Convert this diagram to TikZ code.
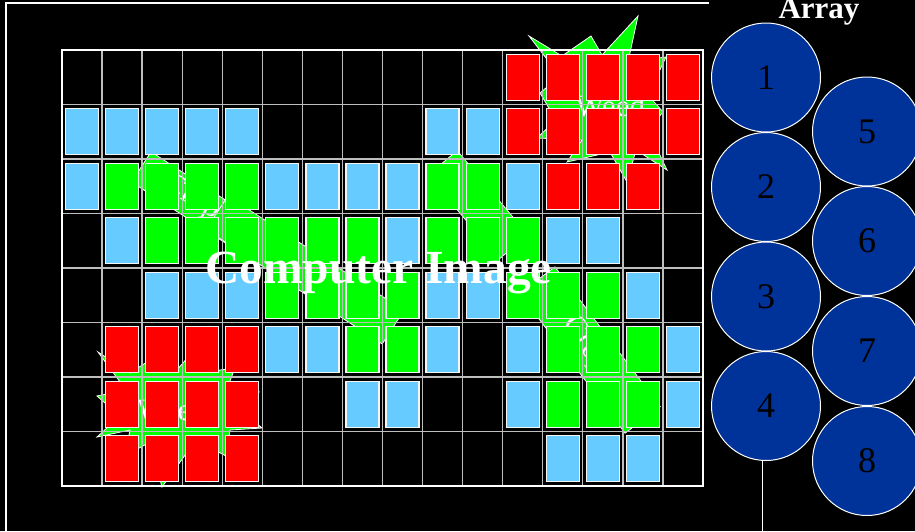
\documentclass[tikz,border=0pt]{standalone}
\usepackage{fontspec}
\setmainfont{Liberation Serif}
\definecolor{cellblue}{RGB}{102,204,255}
\definecolor{cellgreen}{RGB}{0,255,0}
\definecolor{cellred}{RGB}{255,0,0}
\definecolor{arrayblue}{RGB}{0,51,153}
\definecolor{gridgray}{RGB}{190,190,190}
\tikzset{
  cellbox/.style={rectangle, minimum width=33pt, minimum height=46pt, inner sep=0pt, draw=white!92!gray, line width=1.2pt},
  bluecell/.style={cellbox, fill=cellblue},
  greencell/.style={cellbox, fill=cellgreen},
  redcell/.style={cellbox, fill=cellred},
  leaf/.style={rectangle, fill=cellgreen, draw=white, line width=0.8pt, inner sep=0pt},
  weedstar/.style={fill=cellgreen, draw=white, line width=0.8pt, line join=miter},
  plantlabel/.style={text=white, inner sep=0pt, font=\fontsize{31}{31}\selectfont},
  lens/.style={circle, minimum size=109pt, fill=arrayblue, draw=white, line width=1pt, inner sep=0pt, font=\fontsize{36}{36}\selectfont, text=black},
  titlelabel/.style={text=white, inner sep=0pt, font=\bfseries\fontsize{47.5}{47.5}\selectfont},
  framerule/.style={draw=white, line width=1.2pt},
  gridinner/.style={draw=gridgray, line width=1.3pt},
  gridouter/.style={draw=white, line width=2.4pt},
}
\begin{document}
\begin{tikzpicture}[x=1pt,y=-1pt]
\useasboundingbox (0,0) rectangle (915,531);
\fill[black] (0,0) rectangle (915,531);

% outer frame
\coordinate (fa) at (6,531);
\coordinate (fb) at (6,3);
\coordinate (fc) at (709,3);
\draw[framerule] (fa) -- (fb) -- (fc);

% crop leaves (behind the green cells)
\node[leaf, minimum width=140pt, minimum height=36pt, rotate=-33] (leafA) at (200,205) {};
\node[leaf, minimum width=210pt, minimum height=40pt, rotate=-33] (leafB) at (305,270) {};
\node[leaf, minimum width=110pt, minimum height=38pt, rotate=-50] (leafC) at (478,205) {};
\node[leaf, minimum width=175pt, minimum height=44pt, rotate=-53] (leafD) at (590,350) {};

% weeds
\draw[weedstar] (529,36) -- (562,56) -- (591,36) -- (602,55) -- (638,16) -- (628,62) -- (666,57)
  -- (648,95) -- (663,112) -- (648,130) -- (667,170) -- (636,150) -- (627,182) -- (610,152)
  -- (567,162) -- (582,140) -- (537,138) -- (556,120) -- (540,93) -- (560,76) -- cycle;
\draw[weedstar] (98,352) -- (130,373) -- (150,360) -- (175,372) -- (190,355) -- (205,372)
  -- (235,368) -- (228,386) -- (259,392) -- (236,406) -- (262,428) -- (230,430) -- (226,456)
  -- (196,440) -- (162,487) -- (150,442) -- (125,456) -- (130,430) -- (97,437) -- (120,416)
  -- (97,396) -- (126,390) -- cycle;

% plant labels
\node[plantlabel, anchor=base west] (weedA) at (575,116) {Weed};
\node[plantlabel, anchor=base west] (weedB) at (137,420) {Weed};
\node[plantlabel, rotate=-30] (cropA) at (192,198) {Crop};
\node[plantlabel, rotate=-55] (cropB) at (586,345) {Crop};

% grid
\foreach \c in {1,...,15} {
  \draw[gridinner] ({62+40.0625*\c},50) -- ({62+40.0625*\c},486);
}
\foreach \r in {1,...,7} {
  \draw[gridinner] (62,{50+54.5*\r}) -- (703,{50+54.5*\r});
}
\draw[gridouter] (62,50) rectangle (703,486);

% cells
\foreach \c/\r in {0/1,1/1,2/1,3/1,4/1,9/1,10/1,0/2,5/2,6/2,7/2,8/2,11/2,1/3,8/3,12/3,13/3,
  2/4,3/4,4/4,9/4,10/4,14/4,5/5,6/5,9/5,11/5,15/5,7/6,8/6,11/6,15/6,12/7,13/7,14/7} {
  \node[bluecell] (cell-\c-\r) at ({82.03+40.0625*\c},{77.25+54.5*\r}) {};
}
\foreach \c/\r in {1/2,2/2,3/2,4/2,9/2,10/2,2/3,3/3,4/3,5/3,6/3,7/3,9/3,10/3,11/3,
  5/4,6/4,7/4,8/4,11/4,12/4,13/4,7/5,8/5,12/5,13/5,14/5,12/6,13/6,14/6} {
  \node[greencell] (cell-\c-\r) at ({82.03+40.0625*\c},{77.25+54.5*\r}) {};
}
\foreach \c/\r in {11/0,12/0,13/0,14/0,15/0,11/1,12/1,13/1,14/1,15/1,12/2,13/2,14/2,
  1/5,2/5,3/5,4/5,1/6,2/6,3/6,4/6,1/7,2/7,3/7,4/7} {
  \node[redcell] (cell-\c-\r) at ({82.03+40.0625*\c},{77.25+54.5*\r}) {};
}

% array of lenses
\node[lens] (arr1) at (766,77.5) {1};
\node[lens] (arr2) at (766,187) {2};
\node[lens] (arr3) at (766,296.5) {3};
\node[lens] (arr4) at (766,406) {4};
\node[lens] (arr5) at (867,131.5) {5};
\node[lens] (arr6) at (867,241) {6};
\node[lens] (arr7) at (867,351) {7};
\node[lens] (arr8) at (867,461) {8};
\coordinate (tail) at (762,531);
\draw[draw=white, line width=1pt] (arr4.south -| tail) -- (tail);

\node[text=white, inner sep=0pt, anchor=base, font=\bfseries\fontsize{31}{31}\selectfont] (arraylabel) at (819,18) {Array};

\node[titlelabel, anchor=base] (title) at (378.5,283) {Computer Image};
\end{tikzpicture}
\end{document}
